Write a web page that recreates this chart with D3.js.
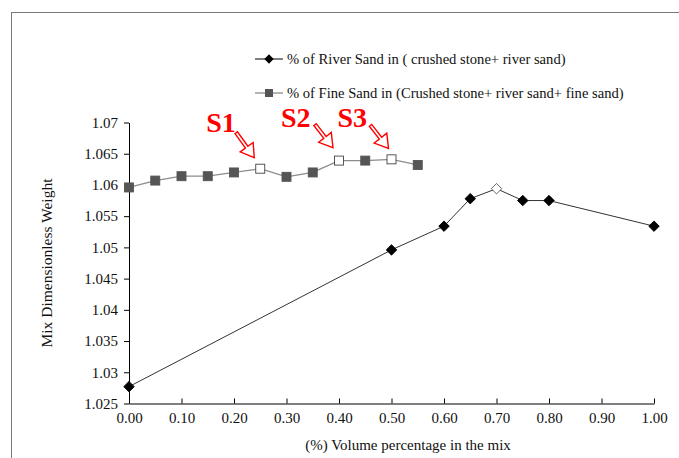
<!DOCTYPE html>
<html>
<head>
<meta charset="utf-8">
<script src="https://cdn.jsdelivr.net/npm/d3@7"></script>
<style>
  html, body { margin: 0; padding: 0; background: #fff; }
  svg { display: block; }
  svg text { font-family: "Liberation Serif", "Times New Roman", serif !important; }
</style>
</head>
<body>
<svg id="chart" width="679" height="458"></svg>
<script>
// Volume fraction of river sand in (crushed stone + river sand)
const riverX = [0.00, 0.50, 0.60, 0.65, 0.70, 0.75, 0.80, 1.00];
const riverY = [1.0277, 1.0496, 1.0534, 1.0578, 1.0594, 1.0575, 1.0575, 1.0534];
const riverOpen = [false, false, false, false, true, false, false, false];

// Volume fraction of fine sand in (crushed stone + river sand + fine sand)
const fineX = [0.00, 0.05, 0.10, 0.15, 0.20, 0.25, 0.30, 0.35, 0.40, 0.45, 0.50, 0.55];
const fineY = [1.0596, 1.0607, 1.0614, 1.0614, 1.0620, 1.0626, 1.0613, 1.0620, 1.0639, 1.0639, 1.0641, 1.0632];
const fineOpen = [false, false, false, false, false, true, false, false, true, false, true, false];

const xTicks = [0, 0.1, 0.2, 0.3, 0.4, 0.5, 0.6, 0.7, 0.8, 0.9, 1.0];
const yTicks = [1.025, 1.03, 1.035, 1.04, 1.045, 1.05, 1.055, 1.06, 1.065, 1.07];

const seriesNames = [
  "% of River Sand in ( crushed stone+ river sand)",
  "% of Fine Sand in (Crushed stone+ river sand+ fine sand)"
];

// Selected mixes marked on the fine-sand curve
const callouts = [
  { label: "S1", x: 0.25 },
  { label: "S2", x: 0.40 },
  { label: "S3", x: 0.50 }
];

const svg = d3.select("#chart");

// Outer chart frame
svg.append("rect")
  .attr("x", 11.5).attr("y", 12.5)
  .attr("width", 700).attr("height", 470)
  .attr("fill", "none").attr("stroke", "#7a7a7a").attr("stroke-width", 1);

const plot = { left: 129, right: 654, top: 122.5, bottom: 403.5 };

const x = d3.scaleLinear().domain([0, 1]).range([plot.left, plot.right]);
const y = d3.scaleLinear().domain([1.025, 1.07]).range([plot.bottom, plot.top]);

// X axis
const xAxis = svg.append("g")
  .attr("transform", `translate(0,${plot.bottom})`)
  .call(d3.axisBottom(x).tickValues(xTicks).tickFormat(d3.format(".2f")).tickSize(-5).tickSizeOuter(0).tickPadding(9));
xAxis.select(".domain").attr("stroke", "#000");
xAxis.selectAll(".tick line").attr("stroke", "#000");
xAxis.selectAll("text").attr("font-size", 15).attr("fill", "#111");

// Y axis
const yAxis = svg.append("g")
  .attr("transform", `translate(${plot.left},0)`)
  .call(d3.axisLeft(y).tickValues(yTicks).tickFormat(d => String(+d.toFixed(3))).tickSize(5).tickSizeOuter(0).tickPadding(6));
yAxis.select(".domain").attr("stroke", "#000");
yAxis.selectAll(".tick line").attr("stroke", "#000");
yAxis.selectAll("text").attr("font-size", 15).attr("fill", "#111");

// Axis titles
svg.append("text")
  .attr("x", 408).attr("y", 450)
  .attr("text-anchor", "middle").attr("font-size", 15).attr("fill", "#111")
  .text("(%) Volume percentage in the mix");

svg.append("text")
  .attr("transform", `translate(52,${(plot.top + plot.bottom) / 2}) rotate(-90)`)
  .attr("text-anchor", "middle").attr("font-size", 15.5).attr("fill", "#111")
  .text("Mix Dimensionless Weight");

const line = d3.line().x(d => x(d[0])).y(d => y(d[1]));

const riverData = riverX.map((v, i) => [v, riverY[i], riverOpen[i]]);
const fineData = fineX.map((v, i) => [v, fineY[i], fineOpen[i]]);

// Fine-sand series
svg.append("path").datum(fineData)
  .attr("d", line).attr("fill", "none").attr("stroke", "#8c8c8c").attr("stroke-width", 1.3);

const sq = 9;
svg.selectAll("rect.fine").data(fineData).join("rect")
  .attr("class", "fine")
  .attr("x", d => x(d[0]) - sq / 2).attr("y", d => y(d[1]) - sq / 2)
  .attr("width", sq).attr("height", sq)
  .attr("fill", d => d[2] ? "#fff" : "#555")
  .attr("stroke", d => d[2] ? "#444" : "#555").attr("stroke-width", 0.9);

// River-sand series
svg.append("path").datum(riverData)
  .attr("d", line).attr("fill", "none").attr("stroke", "#333").attr("stroke-width", 1);

const diamond = d3.symbol().type(d3.symbolDiamond2).size(70);
svg.selectAll("path.river").data(riverData).join("path")
  .attr("class", "river")
  .attr("transform", d => `translate(${x(d[0])},${y(d[1])})`)
  .attr("d", diamond)
  .attr("fill", d => d[2] ? "#fff" : "#000")
  .attr("stroke", d => d[2] ? "#555" : "#000").attr("stroke-width", 0.9);

// Legend
const legend = svg.append("g").attr("transform", "translate(255,0)");
const legRows = [59, 93];
legend.append("line").attr("x1", 0).attr("x2", 28).attr("y1", legRows[0]).attr("y2", legRows[0])
  .attr("stroke", "#000").attr("stroke-width", 1);
legend.append("path").attr("transform", `translate(14,${legRows[0]})`)
  .attr("d", d3.symbol().type(d3.symbolDiamond2).size(55)).attr("fill", "#000");
legend.append("line").attr("x1", 0).attr("x2", 28).attr("y1", legRows[1]).attr("y2", legRows[1])
  .attr("stroke", "#8c8c8c").attr("stroke-width", 1.3);
legend.append("rect").attr("x", 14 - 4).attr("y", legRows[1] - 4).attr("width", 8).attr("height", 8)
  .attr("fill", "#555");
seriesNames.forEach((name, i) => {
  legend.append("text").attr("x", 32).attr("y", legRows[i] + 5)
    .attr("font-size", 14.6).attr("fill", "#111").text(name);
});

// Red callouts with hollow arrows
const red = "#ff0000";
function hollowArrow(x0, y0, x1, y1) {
  const dx = x1 - x0, dy = y1 - y0;
  const len = Math.hypot(dx, dy);
  const ux = dx / len, uy = dy / len;
  const nx = -uy, ny = ux;
  const headLen = 13, headW = 8, shaftW = 1.5;
  const bx = x1 - ux * headLen, by = y1 - uy * headLen;
  const pts = [
    [x0 + nx * shaftW, y0 + ny * shaftW],
    [bx + nx * shaftW, by + ny * shaftW],
    [bx + nx * headW, by + ny * headW],
    [x1, y1],
    [bx - nx * headW, by - ny * headW],
    [bx - nx * shaftW, by - ny * shaftW],
    [x0 - nx * shaftW, y0 - ny * shaftW]
  ];
  return "M" + pts.map(p => p.join(",")).join("L") + "Z";
}

const labelOffsets = { S1: [-54, -37], S2: [-58, -34], S3: [-54, -32] };
const arrowOffsets = {
  S1: [-24, -36, -6, -11],
  S2: [-24, -36, -6, -13],
  S3: [-21, -34, -3, -11]
};
callouts.forEach(c => {
  const i = fineX.indexOf(c.x);
  const px = x(c.x), py = y(fineY[i]);
  const off = labelOffsets[c.label];
  const a = arrowOffsets[c.label];
  svg.append("text")
    .attr("x", px + off[0]).attr("y", py + off[1])
    .attr("font-size", 28).attr("font-weight", "bold").attr("fill", red)
    .text(c.label);
  svg.append("path")
    .attr("d", hollowArrow(px + a[0], py + a[1], px + a[2], py + a[3]))
    .attr("fill", "#fff").attr("stroke", red).attr("stroke-width", 1.4)
    .attr("stroke-linejoin", "miter");
});
</script>
</body>
</html>
